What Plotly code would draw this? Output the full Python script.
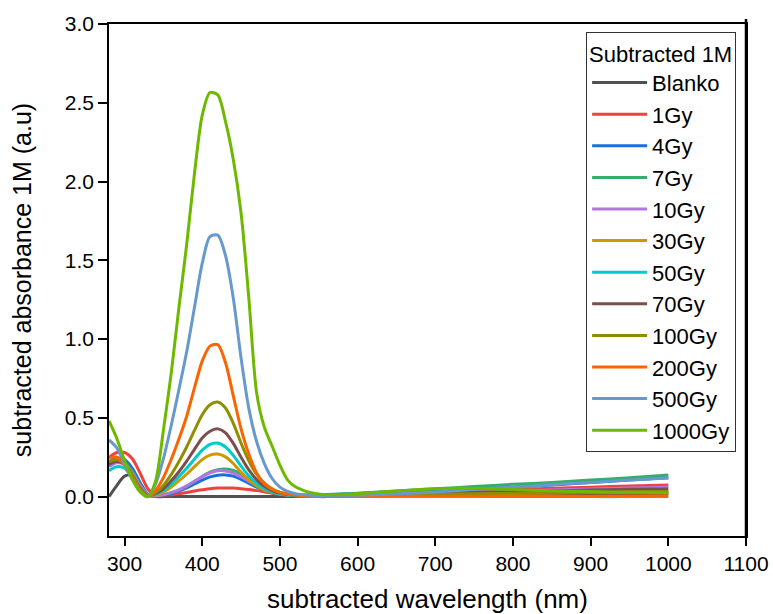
import plotly.graph_objects as go

wavelength = [280, 290, 300, 310, 320, 330, 340, 350, 360, 370,
              380, 390, 400, 410, 420, 430, 440, 450, 460, 470,
              480, 490, 500, 510, 520, 530, 540, 550, 560, 580,
              600, 650, 700, 750, 800, 850, 900, 950, 1000]

blanko = [0.0, 0.07, 0.13, 0.135, 0.07, 0.01, 0.0, 0.0, 0.0, 0.0,
          0.0, 0.0, 0.0, 0.0, 0.0, 0.0, 0.0, 0.0, 0.0, 0.0,
          0.0, 0.0, 0.0, 0.0, 0.0, 0.0, 0.0, 0.0, 0.0, 0.002,
          0.003, 0.005, 0.007, 0.009, 0.011, 0.013, 0.015, 0.017, 0.02]

gy1 = [0.25, 0.28, 0.28, 0.24, 0.15, 0.05, 0.005, 0.008, 0.012, 0.018,
       0.026, 0.035, 0.043, 0.05, 0.054, 0.055, 0.054, 0.05, 0.045, 0.038,
       0.03, 0.022, 0.015, 0.01, 0.007, 0.005, 0.005, 0.005, 0.006, 0.008,
       0.01, 0.02, 0.03, 0.037, 0.045, 0.053, 0.06, 0.067, 0.074]

gy4 = [0.22, 0.245, 0.235, 0.18, 0.09, 0.015, 0.005, 0.01, 0.02, 0.035,
       0.055, 0.08, 0.105, 0.125, 0.136, 0.138, 0.13, 0.11, 0.085, 0.06,
       0.04, 0.025, 0.016, 0.011, 0.009, 0.009, 0.01, 0.011, 0.013, 0.016,
       0.02, 0.03, 0.04, 0.05, 0.06, 0.074, 0.09, 0.105, 0.12]

gy7 = [0.2, 0.225, 0.215, 0.16, 0.075, 0.012, 0.005, 0.012, 0.025, 0.042,
       0.066, 0.096, 0.128, 0.155, 0.171, 0.175, 0.166, 0.142, 0.112, 0.082,
       0.056, 0.036, 0.023, 0.015, 0.011, 0.009, 0.009, 0.01, 0.012, 0.016,
       0.022, 0.035, 0.05, 0.064, 0.078, 0.09, 0.105, 0.12, 0.137]

gy10 = [0.19, 0.215, 0.205, 0.15, 0.07, 0.01, 0.005, 0.012, 0.025, 0.043,
        0.068, 0.097, 0.127, 0.151, 0.164, 0.163, 0.15, 0.126, 0.098, 0.071,
        0.048, 0.031, 0.02, 0.013, 0.009, 0.007, 0.007, 0.007, 0.008, 0.01,
        0.012, 0.018, 0.024, 0.03, 0.036, 0.042, 0.048, 0.054, 0.06]

gy30 = [0.21, 0.23, 0.21, 0.14, 0.06, 0.005, 0.01, 0.03, 0.06, 0.1,
        0.142, 0.19, 0.235, 0.263, 0.27, 0.252, 0.21, 0.155, 0.105, 0.068,
        0.042, 0.026, 0.016, 0.01, 0.007, 0.005, 0.005, 0.005, 0.006, 0.007,
        0.008, 0.011, 0.014, 0.017, 0.02, 0.023, 0.026, 0.029, 0.032]

gy50 = [0.165, 0.19, 0.18, 0.12, 0.05, 0.005, 0.015, 0.04, 0.08, 0.128,
        0.18, 0.238, 0.295, 0.332, 0.34, 0.315, 0.262, 0.194, 0.132, 0.084,
        0.051, 0.03, 0.017, 0.01, 0.006, 0.004, 0.003, 0.002, 0.002, 0.002,
        0.002, 0.002, 0.002, 0.002, 0.001, 0.001, 0.0, 0.0, 0.0]

gy70 = [0.205, 0.225, 0.205, 0.135, 0.055, 0.005, 0.02, 0.05, 0.1, 0.158,
        0.225, 0.3, 0.372, 0.415, 0.43, 0.405, 0.338, 0.25, 0.17, 0.108,
        0.065, 0.038, 0.022, 0.014, 0.01, 0.008, 0.008, 0.008, 0.009, 0.01,
        0.012, 0.017, 0.022, 0.027, 0.032, 0.037, 0.042, 0.046, 0.049]

gy100 = [0.22, 0.235, 0.21, 0.135, 0.05, 0.003, 0.025, 0.07, 0.14, 0.222,
         0.315, 0.42, 0.52, 0.583, 0.6, 0.562, 0.465, 0.34, 0.228, 0.142,
         0.085, 0.049, 0.028, 0.017, 0.011, 0.008, 0.007, 0.007, 0.007, 0.008,
         0.009, 0.012, 0.015, 0.018, 0.021, 0.024, 0.027, 0.03, 0.033]

gy200 = [0.245, 0.25, 0.2, 0.12, 0.04, 0.0, 0.04, 0.12, 0.235, 0.365,
         0.51, 0.69, 0.86, 0.955, 0.965, 0.85, 0.64, 0.43, 0.27, 0.15,
         0.08, 0.045, 0.026, 0.016, 0.01, 0.006, 0.004, 0.003, 0.003, 0.003,
         0.003, 0.002, 0.002, 0.002, 0.002, 0.002, 0.003, 0.004, 0.006]

gy500 = [0.36, 0.31, 0.21, 0.11, 0.035, 0.0, 0.08, 0.24, 0.45, 0.68,
         0.92, 1.2, 1.48, 1.65, 1.66, 1.53, 1.26, 0.88, 0.56, 0.35,
         0.21, 0.115, 0.06, 0.033, 0.019, 0.012, 0.008, 0.006, 0.006, 0.007,
         0.009, 0.018, 0.03, 0.045, 0.06, 0.075, 0.09, 0.105, 0.118]

gy1000 = [0.48, 0.37, 0.23, 0.11, 0.03, 0.0, 0.1, 0.42, 0.78, 1.2,
          1.6, 2.05, 2.42, 2.565, 2.55, 2.38, 2.14, 1.8, 1.26, 0.66,
          0.44, 0.32, 0.2, 0.105, 0.062, 0.04, 0.025, 0.016, 0.012, 0.012,
          0.018, 0.035, 0.05, 0.052, 0.045, 0.037, 0.032, 0.028, 0.024]

names = ["Blanko", "1Gy", "4Gy", "7Gy", "10Gy", "30Gy", "50Gy", "70Gy",
         "100Gy", "200Gy", "500Gy", "1000Gy"]
series = [blanko, gy1, gy4, gy7, gy10, gy30, gy50, gy70, gy100, gy200, gy500, gy1000]
colors = ["#515151", "#F14040", "#1A6FDF", "#37AD6B", "#B177DE", "#CC9900",
          "#00CBCC", "#7D4E4E", "#8E8E00", "#FB6501", "#6699CC", "#6FB802"]

x_ticks = [300, 400, 500, 600, 700, 800, 900, 1000, 1100]
y_ticks = [0.0, 0.5, 1.0, 1.5, 2.0, 2.5, 3.0]

FONT = "Arial, Liberation Sans, sans-serif"

fig = go.Figure()
for name, ys, c in zip(names, series, colors):
    fig.add_trace(go.Scatter(x=wavelength, y=ys, name=name, mode="lines",
                             line=dict(color=c, width=3, shape="spline", smoothing=0.8)))

fig.update_layout(
    width=773, height=614,
    margin=dict(l=109, r=27, t=24, b=78),
    paper_bgcolor="white", plot_bgcolor="white",
    font=dict(family=FONT, color="black"),
    showlegend=True,
    legend=dict(
        x=0.749, y=0.984, xanchor="left", yanchor="top",
        bgcolor="white", bordercolor="#333333", borderwidth=1,
        font=dict(size=22, family=FONT),
        title=dict(text="Subtracted 1M", font=dict(size=22, family=FONT)),
        tracegroupgap=0, itemwidth=55,
    ),
    xaxis=dict(
        range=[280, 1100], tickvals=x_ticks, ticktext=[str(v) for v in x_ticks],
        showline=True, linecolor="black", linewidth=1.5, mirror=True,
        ticks="outside", ticklen=8, tickwidth=1.5, tickcolor="black",
        showgrid=False, zeroline=False, automargin=False,
        tickfont=dict(size=21, family=FONT),
        title=dict(text="subtracted wavelength (nm)", font=dict(size=26, family=FONT), standoff=18),
    ),
    yaxis=dict(
        range=[-0.25, 3.0], tickvals=y_ticks, ticktext=[f"{v:.1f}" for v in y_ticks],
        showline=True, linecolor="black", linewidth=1.5, mirror=True,
        ticks="outside", ticklen=9, tickwidth=1.5, tickcolor="black",
        showgrid=False, zeroline=False, automargin=False,
        tickfont=dict(size=21, family=FONT),
        title=dict(text="subtracted absorbance 1M (a.u)", font=dict(size=25, family=FONT), standoff=26),
    ),
    shapes=[dict(type="line", xref="paper", yref="paper", x0=1, x1=1, y0=0, y1=1.01,
                 line=dict(color="black", width=2.5))],
)

fig.write_html("out.html")
